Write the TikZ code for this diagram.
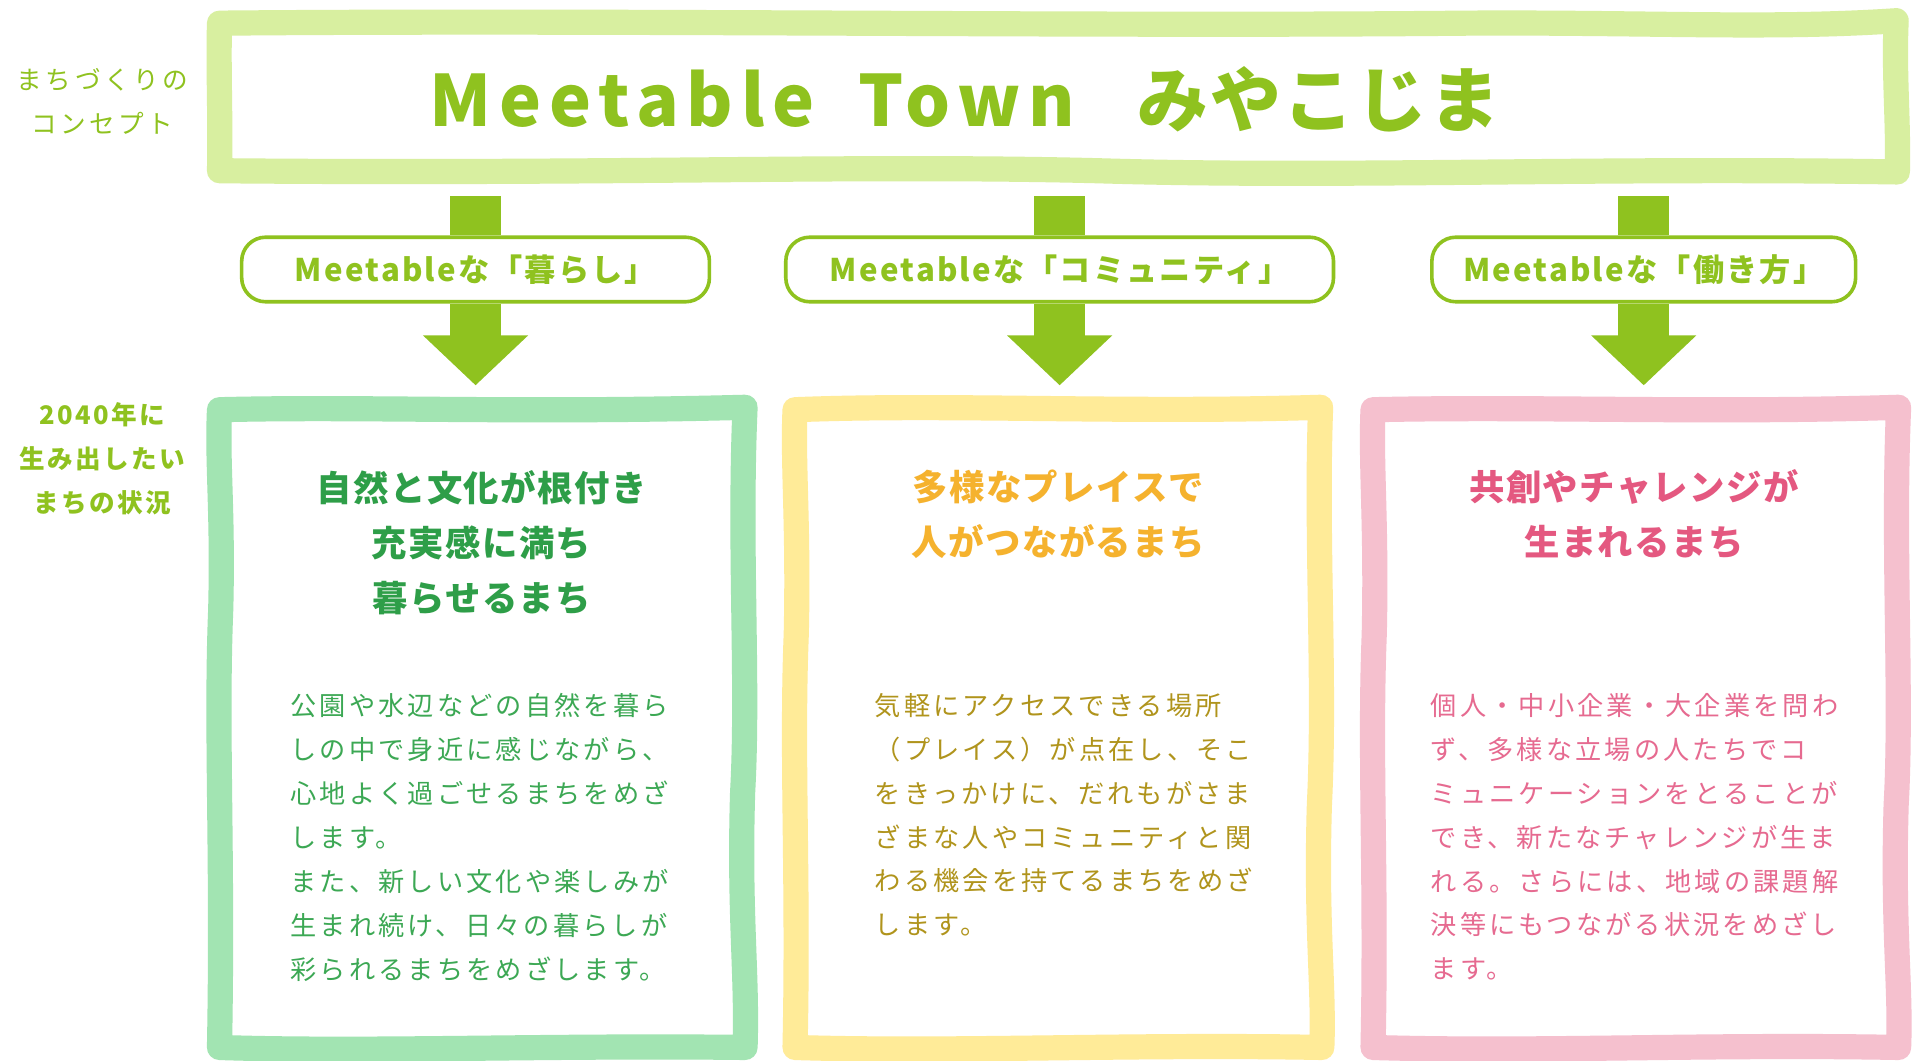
\documentclass[tikz,border=0pt]{standalone}
\usepackage{fontspec}
\setmainfont{Noto Sans CJK JP}
\usetikzlibrary{arrows.meta}

\definecolor{conceptgreen}{RGB}{143,194,31}
\definecolor{bannerfill}{RGB}{216,239,160}
\definecolor{framegreen}{RGB}{162,228,178}
\definecolor{frameyellow}{RGB}{255,235,152}
\definecolor{framepink}{RGB}{245,192,206}
\definecolor{headgreen}{RGB}{46,158,72}
\definecolor{bodygreen}{RGB}{60,168,84}
\definecolor{headorange}{RGB}{245,178,46}
\definecolor{bodyolive}{RGB}{176,148,28}
\definecolor{headpink}{RGB}{228,88,128}
\definecolor{bodypink}{RGB}{230,106,144}

\tikzset{
  wobblyframe/.style={line width=12.6pt, line join=round, line cap=round, fill=white},
  stembar/.style={draw=conceptgreen, line width=25.6pt},
  bigarrow/.style={stembar, -{Triangle[width=51.2pt,length=25pt]}, shorten >=5.5pt},
  labelbox/.style={draw=conceptgreen, line width=1.8pt, rounded corners=12pt, fill=white,
    minimum height=32.3pt, inner sep=0pt, text=conceptgreen,
    font=\fontsize{15.6pt}{18pt}\selectfont\bfseries\addfontfeature{LetterSpace=7}},
  sidelabel/.style={align=center, text=conceptgreen, inner sep=0pt},
  headline/.style={align=center, inner sep=0pt,
    font=\fontsize{17.7pt}{27.5pt}\selectfont\bfseries\addfontfeature{LetterSpace=4}},
  bodytext/.style={align=left, anchor=north west, inner sep=0pt,
    font=\fontsize{13.1pt}{22pt}\selectfont\addfontfeature{LetterSpace=12}}
}

\begin{document}
\begin{tikzpicture}[x=0.61pt,y=0.61pt,yscale=-1]
\fill [white] (0,0) rectangle (1568,870);
\useasboundingbox (0,0) rectangle (1568,870);

%Shape: Banner frame
\draw [wobblyframe, draw=bannerfill] (180,19) .. controls (500,16) and (900,22) .. (1200,19) .. controls (1350,18) and (1450,24) .. (1555,17) .. controls (1553,60) and (1557,100) .. (1556,141) .. controls (1300,137) and (1100,146) .. (900,140) .. controls (700,135) and (500,143) .. (180,140) .. controls (181,100) and (179,60) .. (180,19) -- cycle ;
%Shape: Green frame
\draw [wobblyframe, draw=framegreen] (180,336) .. controls (300,333) and (420,339) .. (611,334) .. controls (606,450) and (614,560) .. (609,650) .. controls (606,750) and (613,800) .. (611,859) .. controls (450,857) and (300,863) .. (180,859) .. controls (183,700) and (177,600) .. (181,500) .. controls (183,420) and (178,380) .. (180,336) -- cycle ;
%Shape: Yellow frame
\draw [wobblyframe, draw=frameyellow] (652,336) .. controls (780,331) and (920,339) .. (1083,334) .. controls (1079,440) and (1087,560) .. (1082,660) .. controls (1079,760) and (1086,810) .. (1084,859) .. controls (930,856) and (780,863) .. (652,859) .. controls (655,720) and (649,620) .. (653,520) .. controls (655,430) and (650,380) .. (652,336) -- cycle ;
%Shape: Pink frame
\draw [wobblyframe, draw=framepink] (1126,336) .. controls (1260,333) and (1400,339) .. (1557,334) .. controls (1552,450) and (1560,570) .. (1555,660) .. controls (1552,760) and (1559,810) .. (1557,859) .. controls (1400,856) and (1260,863) .. (1126,859) .. controls (1129,720) and (1123,620) .. (1127,520) .. controls (1129,430) and (1124,380) .. (1126,336) -- cycle ;

% Text Node
\node (title) [anchor=base west, inner sep=0pt, text=conceptgreen, font=\fontsize{35.4pt}{40pt}\selectfont\bfseries\addfontfeature{LetterSpace=11}] at (352,104) {Meetable\hskip0.62em Town\hskip0.88em {\addfontfeature{LetterSpace=3}みやこじま}};
% Text Node
\node (conceptlabel) [sidelabel, font=\fontsize{12.8pt}{22pt}\selectfont\addfontfeature{LetterSpace=14}] at (84,83) {まちづくりの\\コンセプト};
% Text Node
\node (situationlabel) [sidelabel, font=\fontsize{12.8pt}{22pt}\selectfont\bfseries\addfontfeature{LetterSpace=10}] at (84,376) {2040年に\\生み出したい\\まちの状況};

% Label boxes
\node (lab1) [labelbox, minimum width=234pt] at (390,221) {Meetableな「暮らし」};
\node (lab2) [labelbox, minimum width=274pt] at (869,221) {Meetableな「コミュニティ」};
\node (lab3) [labelbox, minimum width=212pt] at (1348,221) {Meetableな「働き方」};

\coordinate (stemtop1) at (390,161);
\coordinate (stemtop2) at (869,161);
\coordinate (stemtop3) at (1348,161);
\coordinate (frame1) at (390,325);
\coordinate (frame2) at (869,325);
\coordinate (frame3) at (1348,325);

%Straight Lines
\draw [stembar] (stemtop1) -- (lab1);
\draw [stembar] (stemtop2) -- (lab2);
\draw [stembar] (stemtop3) -- (lab3);
\draw [bigarrow] (lab1) -- (frame1);
\draw [bigarrow] (lab2) -- (frame2);
\draw [bigarrow] (lab3) -- (frame3);

% Text Node
\node (head1) [headline, text=headgreen] at (395,445) {自然と文化が根付き\\充実感に満ち\\暮らせるまち};
% Text Node
\node (head2) [headline, text=headorange] at (868,422) {多様なプレイスで\\人がつながるまち};
% Text Node
\node (head3) [headline, text=headpink] at (1340,422) {共創やチャレンジが\\生まれるまち};

% Text Node
\node (body1) [bodytext, text=bodygreen] at (238,568) {公園や水辺などの自然を暮ら\\しの中で身近に感じながら、\\心地よく過ごせるまちをめざ\\します。\\また、新しい文化や楽しみが\\生まれ続け、日々の暮らしが\\彩られるまちをめざします。};
% Text Node
\node (body2) [bodytext, text=bodyolive] at (717,568) {気軽にアクセスできる場所\\（プレイス）が点在し、そこ\\をきっかけに、だれもがさま\\ざまな人やコミュニティと関\\わる機会を持てるまちをめざ\\します。};
% Text Node
\node (body3) [bodytext, text=bodypink] at (1173,568) {個人・中小企業・大企業を問わ\\ず、多様な立場の人たちでコ\\ミュニケーションをとることが\\でき、新たなチャレンジが生ま\\れる。さらには、地域の課題解\\決等にもつながる状況をめざし\\ます。};

\end{tikzpicture}
\end{document}
